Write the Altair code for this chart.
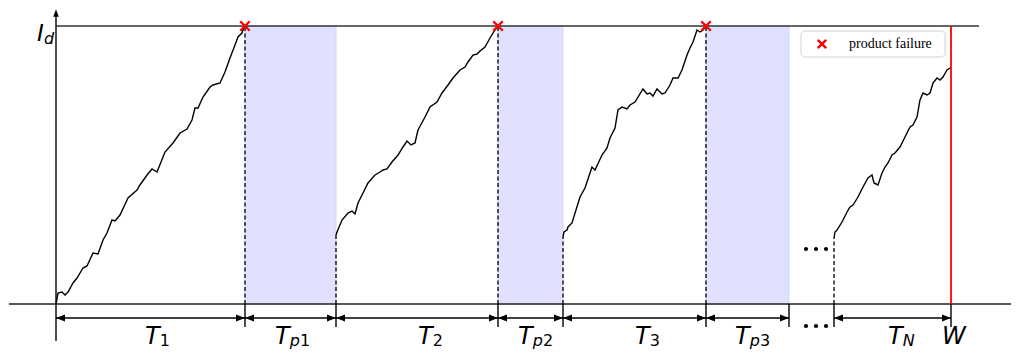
import altair as alt
import pandas as pd

# ---------------- data (time units / degradation units, threshold ID) ----------------
ID = 278
W_T = 895
fail_t = [189, 442, 650]
pm_start = [189, 442, 650]
pm_end = [280, 507, 733]
restart_t = [280, 507, 778]
restart_h = [69, 67, 66]
bound_t = [189, 280, 442, 507, 650, 733, 778, 895]
seg_start = [0, 189, 280, 442, 507, 650, 778]
seg_end = [189, 280, 442, 507, 650, 733, 895]

p1_t = [0, 2, 6, 9, 12, 17, 21, 27, 31, 37, 42, 47, 51, 56, 59, 64, 72, 81, 84, 91,
        96, 101, 109, 117, 124, 131, 136, 139, 142, 147, 154, 157, 164, 169, 174, 179, 182, 186, 188, 189]
p1_h = [0, 11, 12, 9, 12, 21, 26, 36, 38, 51, 50, 64, 71, 84, 83, 89, 106, 114, 119, 129,
        135, 132, 152, 161, 171, 175, 184, 196, 196, 207, 217, 219, 221, 232, 246, 259, 267, 271, 277, 278]
p2_t = [280, 281, 286, 292, 296, 299, 302, 306, 312, 319, 324, 327, 331, 336, 342, 347, 351, 355,
        359, 362, 369, 374, 381, 386, 392, 397, 404, 409, 412, 417, 421, 424, 429, 434, 439, 442]
p2_h = [69, 72, 84, 91, 93, 90, 101, 109, 121, 129, 132, 134, 135, 142, 149, 157, 163, 159,
        161, 174, 187, 197, 202, 211, 219, 226, 234, 237, 242, 249, 250, 253, 257, 266, 274, 278]
p3_t = [507, 508, 511, 512, 516, 524, 529, 536, 539, 546, 551, 554, 559, 562, 566, 571, 574, 579,
        587, 591, 594, 597, 601, 606, 609, 614, 617, 622, 626, 631, 634, 637, 641, 644, 647, 650]
p3_h = [67, 72, 74, 77, 81, 107, 116, 137, 134, 149, 156, 166, 176, 194, 197, 195, 199, 202,
        215, 210, 211, 208, 215, 210, 211, 219, 226, 226, 234, 249, 256, 262, 274, 272, 274, 278]
p4_t = [778, 779, 781, 786, 791, 794, 797, 802, 807, 812, 816, 818, 822, 826, 829, 832, 836,
        839, 844, 849, 854, 857, 861, 864, 867, 871, 874, 877, 881, 884, 887, 891, 894]
p4_h = [66, 72, 74, 82, 92, 97, 99, 107, 117, 126, 129, 121, 119, 131, 137, 141, 149,
        151, 157, 167, 177, 179, 187, 204, 211, 209, 211, 221, 226, 224, 227, 234, 236]

lab_x = [89, 219, 362, 462, 579, 679, 832, 886]
lab_main = ["T", "T", "T", "T", "T", "T", "T", "W"]
lab_sub_it = ["", "p", "", "p", "", "p", "N", ""]
lab_sub_num = ["1", "1", "2", "2", "3", "3", "", ""]

dots_t = [750, 760, 770]
dots_h = [55, -22]

legend_label = "product failure"

# ---------------- helpers ----------------
XS = alt.Scale(domain=[-48, 955], nice=False, zero=False)
YS = alt.Scale(domain=[-45, 296], nice=False, zero=False)


def X(f):
    return alt.X(f"{f}:Q", scale=XS, axis=None)


def Y(f):
    return alt.Y(f"{f}:Q", scale=YS, axis=None)


# ---------------- tables ----------------
pm_df = pd.DataFrame({"a": pm_start, "b": pm_end, "y0": 0, "y1": ID})
fail_df = pd.DataFrame({"t": fail_t, "y0": 0, "y1": ID})
rest_df = pd.DataFrame({"t": restart_t, "y0": 0, "y1": restart_h})
tick_df = pd.DataFrame({"t": bound_t, "y0": -23, "y1": 0})
seg_df = pd.DataFrame({"a": seg_start, "b": seg_end, "y": -14})
rows = []
for k, (ts, hs) in enumerate([(p1_t, p1_h), (p2_t, p2_h), (p3_t, p3_h), (p4_t, p4_h)]):
    for i, (t, h) in enumerate(zip(ts, hs)):
        rows.append({"path": k, "i": i, "t": t, "h": h})
path_df = pd.DataFrame(rows)

sub_w_T = 14.8
sub_w_p = 10.2
main_rows, it_rows, num_rows = [], [], []
for x, m, s_it, s_num in zip(lab_x, lab_main, lab_sub_it, lab_sub_num):
    main_rows.append({"t": x, "h": -40, "s": m})
    if s_it:
        it_rows.append({"t": x + sub_w_T, "h": -42, "s": s_it})
    if s_num:
        num_rows.append({"t": x + sub_w_T + (sub_w_p if s_it else 0), "h": -42, "s": s_num})
main_df = pd.DataFrame(main_rows)
it_df = pd.DataFrame(it_rows)
num_df = pd.DataFrame(num_rows)

dots_df = pd.DataFrame([{"t": t, "h": h} for h in dots_h for t in dots_t])

# ---------------- layers ----------------
shade = alt.Chart(pm_df).mark_rect(color="#e0e0ff", stroke="#d4d4fb", strokeWidth=1).encode(
    x=X("a"), x2="b", y=Y("y0"), y2="y1")

id_line = alt.Chart(pd.DataFrame({"a": [0], "b": [923], "y": [ID]})).mark_rule(
    color="#333333", strokeWidth=1.6).encode(x=X("a"), x2="b", y=Y("y"))

base_line = alt.Chart(pd.DataFrame({"a": [-47], "b": [963], "y": [0]})).mark_rule(
    color="#222222", strokeWidth=1.6).encode(x=X("a"), x2="b", y=Y("y"))

y_axis = alt.Chart(pd.DataFrame({"t": [0], "y0": [-37], "y1": [292]})).mark_rule(
    color="#222222", strokeWidth=1.6).encode(x=X("t"), y=Y("y0"), y2="y1")

y_arrow = alt.Chart(pd.DataFrame({"t": [0], "h": [291]})).mark_point(
    shape="M0,-1L0.75,1L-0.75,1Z", filled=True, size=56, color="black", opacity=1).encode(
    x=X("t"), y=Y("h"))

fail_dash = alt.Chart(fail_df).mark_rule(color="black", strokeWidth=1.3, strokeDash=[4, 2.5]).encode(
    x=X("t"), y=Y("y0"), y2="y1")
rest_dash = alt.Chart(rest_df).mark_rule(color="black", strokeWidth=1.3, strokeDash=[4, 2.5]).encode(
    x=X("t"), y=Y("y0"), y2="y1")

ticks = alt.Chart(tick_df).mark_rule(color="black", strokeWidth=1.4).encode(
    x=X("t"), y=Y("y0"), y2="y1")

w_line = alt.Chart(pd.DataFrame({"t": [W_T], "y0": [0], "y1": [ID]})).mark_rule(
    color="#ff0000", strokeWidth=1.8).encode(x=X("t"), y=Y("y0"), y2="y1")

segs = alt.Chart(seg_df).mark_rule(color="black", strokeWidth=1.4).encode(
    x=X("a"), x2="b", y=Y("y"))
head_l = alt.Chart(seg_df).mark_point(
    shape="M1,-0.8L-1,0L1,0.8Z", filled=True, size=81, color="black", opacity=1, xOffset=4.5).encode(
    x=X("a"), y=Y("y"))
head_r = alt.Chart(seg_df).mark_point(
    shape="M-1,-0.8L1,0L-1,0.8Z", filled=True, size=81, color="black", opacity=1, xOffset=-4.5).encode(
    x=X("b"), y=Y("y"))

paths = alt.Chart(path_df).mark_line(color="black", strokeWidth=1.4).encode(
    x=X("t"), y=Y("h"), detail="path:N", order="i:Q")

fail_x = alt.Chart(pd.DataFrame({"t": fail_t, "h": [ID] * len(fail_t)})).mark_point(
    shape="M-1,-1L1,1M-1,1L1,-1", filled=False, size=90, color="#ff0000", strokeWidth=2.4,
    opacity=1).encode(x=X("t"), y=Y("h"))

leg_box = alt.Chart(pd.DataFrame({"a": [745], "b": [889], "y0": [247], "y1": [273]})).mark_rect(
    fill="white", stroke="#d0d0d0", strokeWidth=1, cornerRadius=4).encode(
    x=X("a"), x2="b", y=Y("y0"), y2="y1")
leg_mark = alt.Chart(pd.DataFrame({"t": [766], "h": [260]})).mark_point(
    shape="M-1,-1L1,1M-1,1L1,-1", filled=False, size=70, color="#ff0000", strokeWidth=2.4,
    opacity=1).encode(x=X("t"), y=Y("h"))
leg_text = alt.Chart(pd.DataFrame({"t": [793], "h": [260], "s": [legend_label]})).mark_text(
    align="left", baseline="middle", font="Liberation Serif", fontSize=14, color="black").encode(
    x=X("t"), y=Y("h"), text="s:N")

main_txt = alt.Chart(main_df).mark_text(
    align="left", baseline="alphabetic", font="DejaVu Sans", fontStyle="italic", fontSize=24,
    color="black").encode(x=X("t"), y=Y("h"), text="s:N")
it_txt = alt.Chart(it_df).mark_text(
    align="left", baseline="alphabetic", font="DejaVu Sans", fontStyle="italic", fontSize=16,
    color="black").encode(x=X("t"), y=Y("h"), text="s:N")
num_txt = alt.Chart(num_df).mark_text(
    align="left", baseline="alphabetic", font="DejaVu Sans", fontSize=16,
    color="black").encode(x=X("t"), y=Y("h"), text="s:N")

id_main = alt.Chart(pd.DataFrame({"t": [-19], "h": [263], "s": ["I"]})).mark_text(
    align="left", baseline="alphabetic", font="DejaVu Sans", fontStyle="italic", fontSize=23,
    color="black").encode(x=X("t"), y=Y("h"), text="s:N")
id_sub = alt.Chart(pd.DataFrame({"t": [-12], "h": [260], "s": ["d"]})).mark_text(
    align="left", baseline="alphabetic", font="DejaVu Sans", fontStyle="italic", fontSize=16,
    color="black").encode(x=X("t"), y=Y("h"), text="s:N")

dots = alt.Chart(dots_df).mark_circle(color="black", size=18, opacity=1).encode(
    x=X("t"), y=Y("h"))

chart = alt.layer(
    shade, id_line, base_line, y_axis, y_arrow, fail_dash, rest_dash, ticks, w_line,
    segs, head_l, head_r, paths, fail_x, leg_box, leg_mark, leg_text,
    main_txt, it_txt, num_txt, id_main, id_sub, dots
).properties(
    width=1003, height=341, padding=0, autosize=alt.AutoSizeParams(type="none")
).configure_view(stroke=None)

chart.save("out.html", embed_options={"renderer": "svg", "actions": False})
